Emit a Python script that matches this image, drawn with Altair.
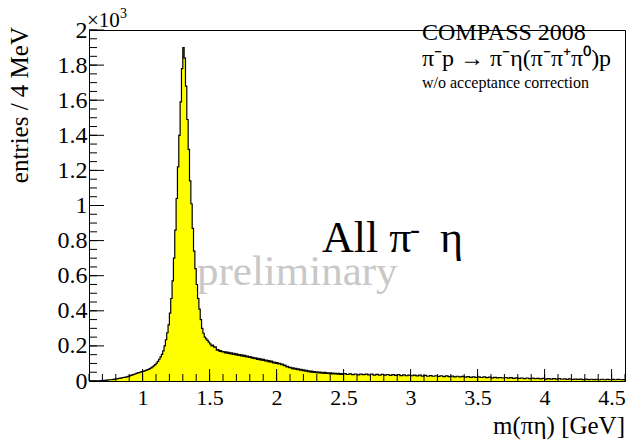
import altair as alt
import pandas as pd
import numpy as np

# ---------------- data (entries / 4 MeV) ----------------
# segment 1: 10 MeV steps from 0.60 GeV
seg1_start = 0.60
seg1_step = 0.01
seg1_counts = [
    0, 0, 0, 0, 0, 0, 0, 0, 1, 2,                       # 0.60-0.69
    3, 3, 4, 5, 6, 7, 7, 8, 9, 11,                      # 0.70
    12, 13, 15, 16, 18, 20, 21, 22, 24, 26,             # 0.80
    29, 32, 35, 38, 40, 43, 46, 48, 51, 53,             # 0.90
    55, 58, 60, 63, 66, 70, 75, 80, 86, 93,             # 1.00
    102, 112, 124, 137, 152, 172, 200, 235, 275, 320,   # 1.10
    387, 470, 570, 700, 860, 1040, 1220, 1400, 1590, 1780,  # 1.20
    1900, 1840, 1680, 1490, 1320, 1140, 1010, 870, 740, 640,  # 1.30
    550, 470, 410, 350, 300, 272, 250, 240, 232, 222,   # 1.40
    212, 200, 204, 193, 195, 176, 179, 168, 173, 166,   # 1.50
    168, 160, 166, 157, 163, 154, 160, 151, 158, 149,   # 1.60
    154, 146, 151, 143, 149, 140, 146, 137, 142, 134,   # 1.70
    139, 130, 135, 127, 132, 123, 129, 120, 126, 117,   # 1.80
    123, 114, 119, 110, 116, 107, 113, 103, 108, 101,   # 1.90
    105, 97, 101, 93, 96, 87, 90, 81, 83, 76,           # 2.00
    78, 71, 75, 67, 72, 65, 69, 62, 66, 59,             # 2.10
    63, 56, 61, 53, 58, 51, 56, 49, 54, 47,             # 2.20
    52, 46, 51, 45, 50, 44, 49, 43, 47, 42,             # 2.30
    46, 41, 45, 40, 44, 39, 43, 38, 42, 38,             # 2.40
]
# segment 2: 20 MeV steps from 2.50 GeV
seg2_start = 2.50
seg2_step = 0.02
seg2_counts = [
    42, 37, 41, 36, 40, 35, 39, 36, 39, 35,   # 2.50
    39, 34, 38, 33, 38, 33, 37, 32, 36, 32,   # 2.70
    36, 31, 35, 30, 34, 30, 33, 29, 33, 28,   # 2.90
    32, 27, 31, 27, 30, 26, 30, 25, 29, 25,   # 3.10
    28, 24, 27, 23, 26, 22, 25, 21, 24, 21,   # 3.30
    24, 20, 23, 19, 22, 18, 21, 18, 20, 17,   # 3.50
    20, 16, 19, 15, 18, 15, 17, 14, 17, 13,   # 3.70
    16, 13, 15, 12, 15, 11, 14, 11, 13, 11,   # 3.90
    13, 10, 12, 9, 12, 9, 11, 9, 11, 8,       # 4.10
    11, 8, 10, 8, 10, 7, 10, 7, 9, 7,         # 4.30
    9, 7, 9, 7, 8,                            # 4.50
]
x_min, x_max = 0.60, 4.60
y_max = 2000

x_label_values = [1, 1.5, 2, 2.5, 3, 3.5, 4, 4.5]
y_label_values = [0, 200, 400, 600, 800, 1000, 1200, 1400, 1600, 1800, 2000]
x_minor_values = [round(0.6 + 0.1 * i, 2) for i in range(41)]
y_minor_values = [50 * i for i in range(41)]

edges = [seg1_start + i * seg1_step for i in range(len(seg1_counts))] + \
        [seg2_start + i * seg2_step for i in range(len(seg2_counts))]
counts = seg1_counts + seg2_counts
edges.append(x_max)
counts.append(counts[-1])
hist = pd.DataFrame({"m": np.round(edges, 4), "n": counts})

W, H = 536, 351
FONT = "Liberation Serif"

xs = alt.Scale(domain=[x_min, x_max], nice=False, zero=False)
ys = alt.Scale(domain=[0, y_max], nice=False)

x_axis = alt.Axis(values=x_label_values, format=".1~f", title=None, grid=False,
                  ticks=False, tickSize=0, domain=True, domainColor="black",
                  labelFont=FONT, labelFontSize=22, labelColor="black",
                  labelPadding=23, labelBaseline="alphabetic", labelFlush=False,
                  labelOverlap=False, zindex=1)
y_axis = alt.Axis(values=y_label_values, labelExpr="format(datum.value / 1000, '.1~f')",
                  title=None, grid=False, ticks=False, tickSize=0, domain=True,
                  domainColor="black", labelFont=FONT, labelFontSize=24,
                  labelColor="black", labelPadding=2, labelBaseline="middle",
                  labelFlush=False, labelOverlap=False, zindex=1)

area = alt.Chart(hist).mark_area(interpolate="step-after", color="#ffff00", opacity=1).encode(
    x=alt.X("m:Q", scale=xs, axis=x_axis),
    y=alt.Y("n:Q", scale=ys, axis=y_axis),
)
line = alt.Chart(hist).mark_line(interpolate="step-after", color="black", strokeWidth=1.2).encode(
    x=alt.X("m:Q", scale=xs, axis=x_axis),
    y=alt.Y("n:Q", scale=ys, axis=y_axis),
)

def xticks(vals, length):
    return alt.Chart(pd.DataFrame({"m": vals})).mark_rule(color="black", strokeWidth=1).encode(
        x=alt.X("m:Q", scale=xs, axis=x_axis),
        y=alt.value(H), y2=alt.value(H - length))

def yticks(vals, length):
    return alt.Chart(pd.DataFrame({"n": vals})).mark_rule(color="black", strokeWidth=1).encode(
        y=alt.Y("n:Q", scale=ys, axis=y_axis),
        x=alt.value(0), x2=alt.value(length))

one = pd.DataFrame({"k": [0]})

def label(text, x, y, size, align="left", color="black", angle=0):
    return alt.Chart(one).mark_text(text=text, font=FONT, fontSize=size, align=align,
                                    baseline="alphabetic", color=color, angle=angle).encode(
        x=alt.value(x), y=alt.value(y))

texts = [
    label("×10", -2, -3, 21),
    label("3", 31, -12, 14),
    label("entries / 4 MeV", -61, -3, 25, align="right", angle=270),
    label("m(πη) [GeV]", W, 404, 25, align="right"),
    label("COMPASS 2008", 333, 10, 24),
    label("π⁻p → π⁻η(π⁻π⁺π⁰)p", 333, 36, 24),
    label("w/o acceptance correction", 333, 58, 16),
    label("preliminary", 108, 255, 43, color="#c8c8c8"),
    label("All π", 233, 222, 44),
    label("-", 321, 209, 30),
    label("η", 351, 222, 44),
]

chart = alt.layer(
    area, line,
    xticks(x_minor_values, 7), xticks(x_label_values, 12),
    yticks(y_minor_values, 8), yticks(y_label_values, 15),
    *texts,
).properties(
    width=W, height=H,
    padding={"left": 89, "top": 30, "right": 2, "bottom": 60},
    autosize=alt.AutoSizeParams(type="none"),
    background="white",
).configure_view(stroke="black", strokeWidth=1)

chart.save("out.html", embed_options={"renderer": "svg", "actions": False})
